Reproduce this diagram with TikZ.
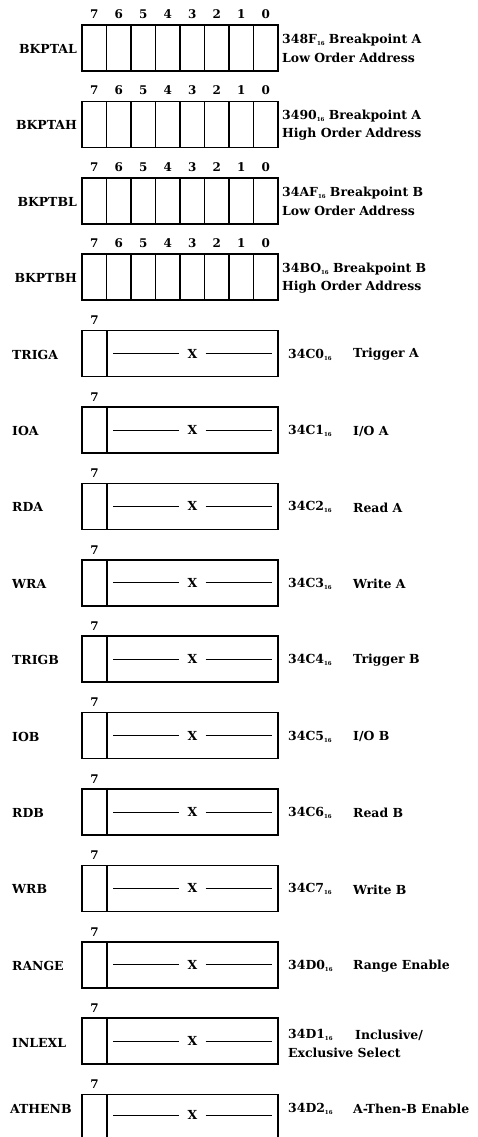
\documentclass[tikz,border=0pt]{standalone}
\usepackage{fontspec}
\setmainfont{DejaVu Serif}
\usetikzlibrary{calc}
\newcommand{\myslash}{/}
\newcommand{\hexsub}{\raisebox{-2pt}{\fontsize{5.5}{5.5}\selectfont 16}}
\begin{document}
\begin{tikzpicture}[x=1bp,y=-1bp,
  regbox/.style={draw, line width=1.7pt, minimum width=196bp, minimum height=46bp, inner sep=0, outer sep=0},
  divider/.style={line width=1.5pt},
  xline/.style={line width=0.8pt},
  txt/.style={font=\bfseries\fontsize{12.5}{16}\selectfont, inner sep=0, text=black},
  digit/.style={font=\bfseries\fontsize{12}{12}\selectfont, inner sep=0},
  regname/.style={txt},
]
\useasboundingbox (0,0) rectangle (478,1137);
\clip (0,0) rectangle (478,1137);
% 8-bit registers
\foreach \k/\nm/\addr/\la/\lb in {0/BKPTAL/348F/Breakpoint A/Low Order Address,
                                  1/BKPTAH/3490/Breakpoint A/High Order Address,
                                  2/BKPTBL/34AF/Breakpoint B/Low Order Address,
                                  3/BKPTBH/34BO/Breakpoint B/High Order Address}{
  \pgfmathsetmacro\cy{48+76.4*\k}
  \node[regbox] (b\k) at (180,\cy) {};
  \foreach \i in {1,...,7}{
    \draw[divider] ($(b\k.north west)!\i/8!(b\k.north east)$) -- ($(b\k.south west)!\i/8!(b\k.south east)$);
  }
  \foreach \i in {0,...,7}{
    \pgfmathtruncatemacro\d{7-\i}
    \node[digit] (d\k-\i) at (82+24.5*\i+12.25,\cy-34) {\d};
  }
  \node[regname, anchor=east] (n\k) at (77,\cy+1) {\nm};
  \node[txt, anchor=west] (a\k) at (282,\cy-8) {\addr\hexsub\ \la};
  \node[txt, anchor=west] (c\k) at (282,\cy+10) {\lb};
}
% single-bit registers
\foreach \j/\nm/\addr/\la in {4/TRIGA/34C0/Trigger A,
                              5/IOA/34C1/I\myslash O A,
                              6/RDA/34C2/Read A,
                              7/WRA/34C3/Write A,
                              8/TRIGB/34C4/Trigger B,
                              9/IOB/34C5/I\myslash O B,
                              10/RDB/34C6/Read B,
                              11/WRB/34C7/Write B,
                              12/RANGE/34D0/Range Enable}{
  \pgfmathsetmacro\cy{48+76.4*\j}
  \node[regbox] (x\j) at (180,\cy) {};
  \draw[divider] (107,\cy-23) -- (107,\cy+23);
  \node[digit] (s\j) at (94.5,\cy-33) {7};
  \node[txt] (xx\j) at (192.5,\cy) {X};
  \draw[xline] (113,\cy) -- ([xshift=-8bp]xx\j.west);
  \draw[xline] ([xshift=8bp]xx\j.east) -- (272,\cy);
  \node[regname, anchor=west] (m\j) at (12,\cy+1) {\nm};
  \node[txt, anchor=west] (p\j) at (288,\cy+1) {\addr\hexsub};
  \node[txt, anchor=west] (q\j) at (353,\cy+1) {\la};
}
% INLEXL
\node[regbox] (x13) at (180,1041) {};
\draw[divider] (107,1018) -- (107,1064);
\node[digit] (s13) at (94.5,1008) {7};
\node[txt] (xx13) at (192.5,1041) {X};
\draw[xline] (113,1041) -- ([xshift=-8bp]xx13.west);
\draw[xline] ([xshift=8bp]xx13.east) -- (272,1041);
\node[regname, anchor=west] (m13) at (12,1043) {INLEXL};
\node[txt, anchor=west] (p13) at (288,1035) {34D1\hexsub};
\node[txt, anchor=west] (q13) at (355,1035) {Inclusive\myslash};
\node[txt, anchor=west] (r13) at (288,1053) {Exclusive Select};
% ATHENB
\node[regbox] (x14) at (180,1117.6) {};
\draw[divider] (107,1094.6) -- (107,1141);
\node[digit] (s14) at (94.5,1084.6) {7};
\node[txt] (xx14) at (192.5,1115) {X};
\draw[xline] (113,1115) -- ([xshift=-8bp]xx14.west);
\draw[xline] ([xshift=8bp]xx14.east) -- (272,1115);
\node[regname, anchor=west] (m14) at (10,1109) {ATHENB};
\node[txt, anchor=west] (p14) at (288,1109) {34D2\hexsub};
\node[txt, anchor=west] (q14) at (353,1109) {A-Then-B Enable};
\end{tikzpicture}
\end{document}
